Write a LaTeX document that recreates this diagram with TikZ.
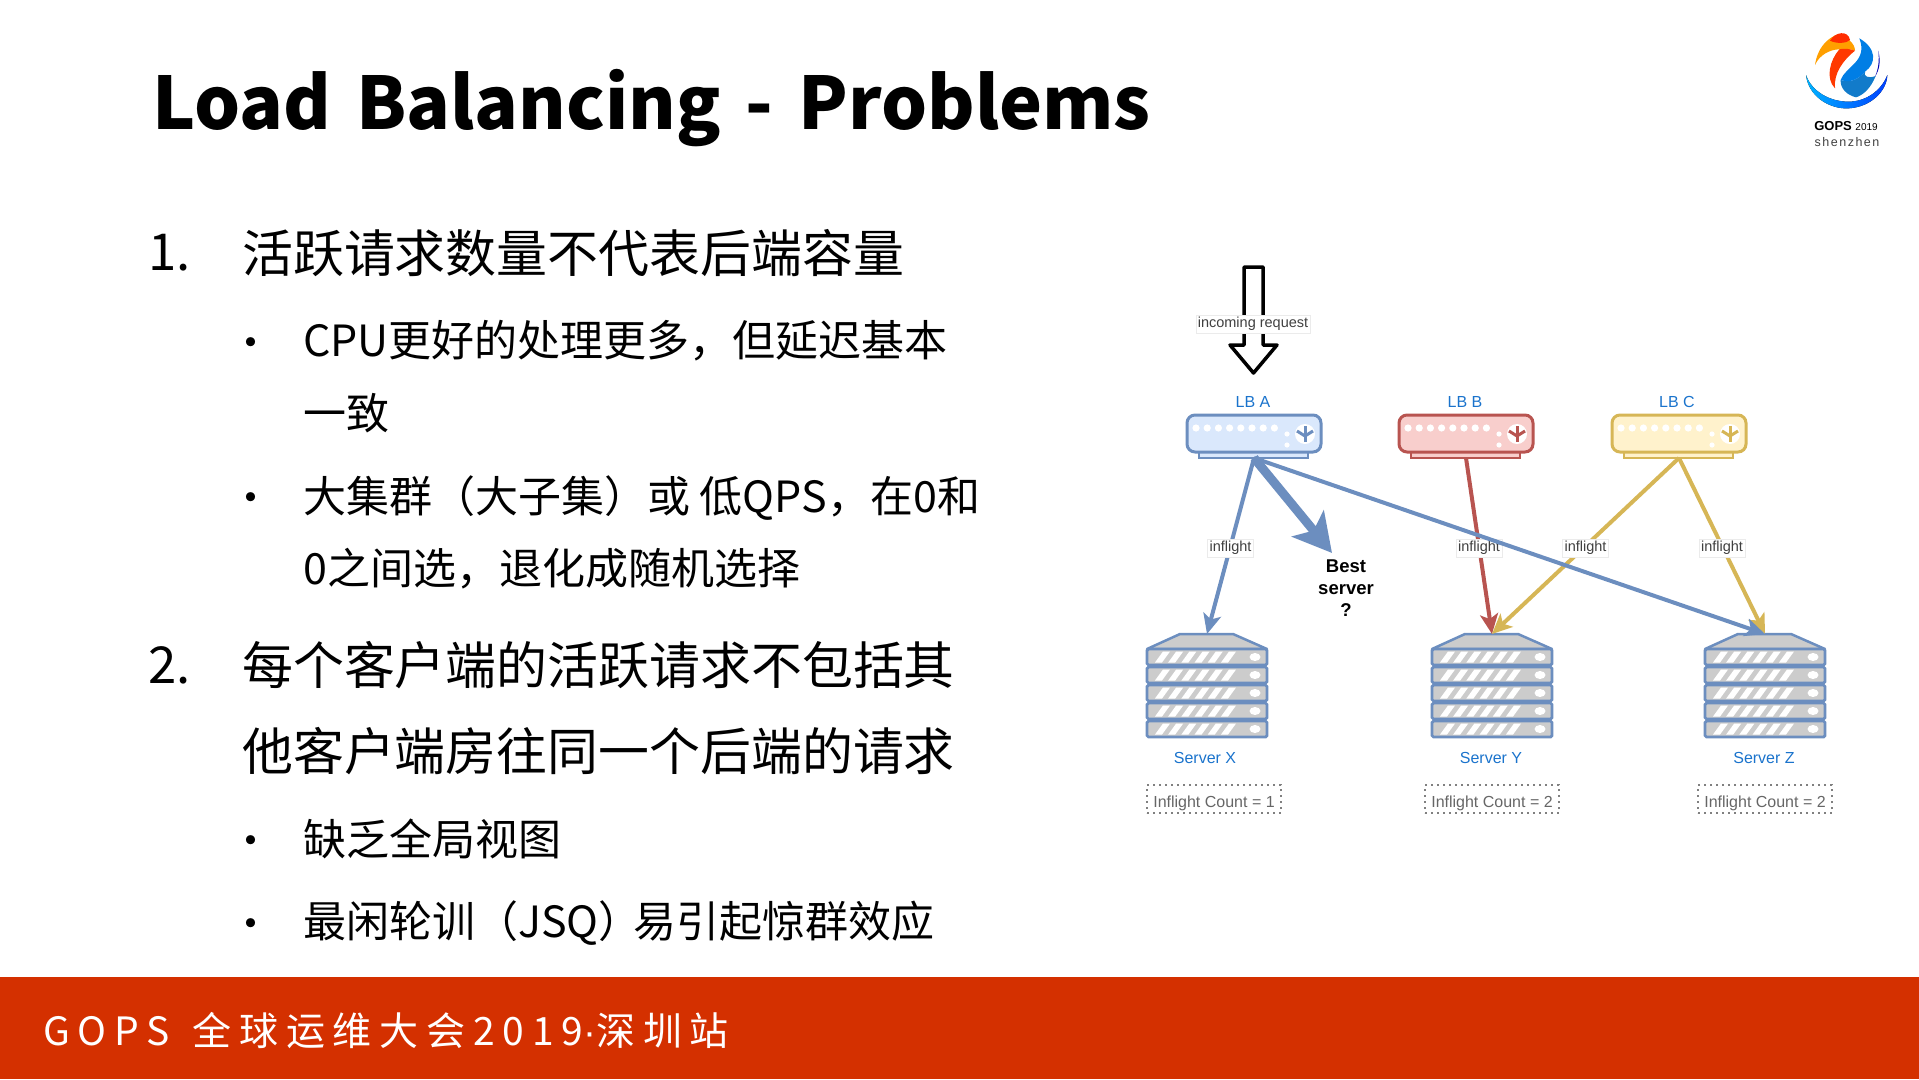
\documentclass[tikz,border=0pt]{standalone}
\usepackage{fontspec}
\setmainfont{Noto Sans CJK SC}
\newfontfamily\diagfont{Liberation Sans}
\usetikzlibrary{arrows.meta}
\definecolor{footred}{HTML}{D43000}
\definecolor{lbluefill}{HTML}{DAE8FC}
\definecolor{lblue}{HTML}{6C8EBF}
\definecolor{lredfill}{HTML}{F8CECC}
\definecolor{lred}{HTML}{B85450}
\definecolor{lgoldfill}{HTML}{FFF2CC}
\definecolor{lgold}{HTML}{D6B656}
\definecolor{labelblue}{HTML}{1A73CC}
\tikzset{
	headline/.style={anchor=west,inner sep=0pt,font=\fontsize{43}{50}\selectfont},
	mainline/.style={anchor=west,inner sep=0pt,font=\fontsize{50.9}{58}\selectfont},
	dotmark/.style={inner sep=0pt,font=\fontsize{43}{50}\selectfont},
	blue label/.style={text=labelblue,inner sep=0pt,font=\diagfont\fontsize{16}{20}\selectfont},
	flowlabel/.style={fill=white,draw=black!8,line width=0.5pt,inner sep=2pt,text=black!75,font=\diagfont\fontsize{14.5}{18}\selectfont},
	countbox/.style={draw=black!50,dash pattern=on 2pt off 4pt,line width=1.3pt,minimum width=134pt,minimum height=28pt,inner sep=0pt,text=black!60,font=\diagfont\fontsize{16}{20}\selectfont},
	flow/.style={line width=4pt,-{Stealth[length=20pt,width=18pt,inset=5pt]}}
}
% load balancer box: fill, stroke, left x, name
\def\lbunit[#1,#2](#3)#4{
	\draw[#2,line width=2.5pt,fill=#1] (#3+12,452) rectangle (#3+121,458);
	\draw[#2,line width=3pt,fill=#1,rounded corners=8pt] (#3,415) rectangle (#3+134,452);
	\foreach \k in {0,...,7}
		\fill[white] (#3+9+11.2*\k,428) circle (3.6);
	\fill[white] (#3+100,434) circle (2.6);
	\fill[white] (#3+100,445) circle (2.6);
	\fill[white] (#3+118,434) circle (10);
	\draw[#2,line width=3pt] (#3+118,426) -- (#3+118,442);
	\draw[#2,line width=3pt] (#3+110,431) -- (#3+118,436) -- (#3+126,431);
	\coordinate (#4) at (#3+67,458);
}
% server stack: centre x, name
\def\serverunit(#1)#2{
	\draw[lblue,line width=2.5pt,fill=black!20,line join=round] (#1-60,649) -- (#1-27,634) -- (#1+26,634) -- (#1+60,649) -- cycle;
	\foreach \y in {649,667,685,703,721} {
		\draw[lblue,line width=2.8pt,fill=black!20,rounded corners=1.5pt] (#1-60,\y) rectangle (#1+60,\y+16);
		\foreach \k in {0,...,5}
			\fill[white] (#1-52+13.2*\k,\y+13.5) -- (#1-45+13.2*\k,\y+13.5) -- (#1-37+13.2*\k,\y+2.5) -- (#1-44+13.2*\k,\y+2.5) -- cycle;
		\fill[white] (#1+48,\y+8) ellipse (5.5 and 4);
	}
	\coordinate (#2) at (#1,634);
}

\begin{document}
\begin{tikzpicture}[x=1pt,y=-1pt]
	\useasboundingbox (0,0) rectangle (1919,1079);
	%%%%% TITLE %%%%%
	\node[anchor=west,inner sep=0pt,font=\fontsize{72.5}{84}\selectfont\bfseries] (title) at (152,108) {\spaceskip=25pt\relax Load Balancing - Problems};

	%%%%% TEXT %%%%%
	\node[mainline] (numa) at (148,253) {1.};
	\node[mainline] (linea) at (242,253) {活跃请求数量不代表后端容量};
	\node[dotmark] (dota) at (251,348) {•};
	\node[headline] (lineb) at (303,341) {CPU更好的处理更多，但延迟基本};
	\node[headline] (linec) at (303,413) {一致};
	\node[dotmark] (dotb) at (251,503) {•};
	\node[headline] (lined) at (303,498) {大集群（大子集）或 低QPS，在0和};
	\node[headline] (linee) at (303,569) {0之间选，退化成随机选择};
	\node[mainline] (numb) at (148,665) {2.};
	\node[mainline] (linef) at (242,665) {每个客户端的活跃请求不包括其};
	\node[mainline] (lineg) at (242,751) {他客户端房往同一个后端的请求};
	\node[dotmark] (dotc) at (251,846) {•};
	\node[headline] (lineh) at (303,839) {缺乏全局视图};
	\node[dotmark] (dotd) at (251,929) {•};
	\node[headline] (linei) at (303,923) {最闲轮训（JSQ）\kern-8pt 易引起惊群效应};

	%%%%% FOOTER %%%%%
	\fill[footred] (0,977) rectangle (1919,1079);
	\node[anchor=west,inner sep=0pt,text=white,font=\fontsize{39}{44}\selectfont\addfontfeature{LetterSpace=20}] (foot) at (43,1031) {GOPS\kern6pt{} 全球运维大会2019{\diagfont\addfontfeature{LetterSpace=0}·}深圳站};

	%%%%% LOGO %%%%%
	\begin{scope}[shift={(1780,20)},scale=1/3]
		\fill[left color=cyan!70!blue,right color=blue!75!cyan] (78,165) .. controls (85,230) and (150,268) .. (205,265) .. controls (270,262) and (320,215) .. (322,165) .. controls (305,210) and (260,245) .. (205,245) .. controls (150,245) and (95,215) .. (78,165);
		\fill[orange!75!yellow] (105,135) .. controls (112,85) and (140,55) .. (175,42) .. controls (200,50) and (225,70) .. (225,92) .. controls (205,85) and (190,85) .. (178,88) .. controls (150,88) and (118,105) .. (105,135);
		\fill[red!65!orange] (150,62) .. controls (165,35) and (205,30) .. (210,60) .. controls (200,70) and (170,72) .. (150,62);
		\fill[red!55!orange] (178,88) .. controls (190,85) and (205,85) .. (225,92) .. controls (190,120) and (160,160) .. (165,205) .. controls (135,175) and (150,120) .. (178,88);
		\fill[cyan!60!blue] (182,180) .. controls (215,192) and (240,172) .. (255,155) .. controls (250,170) and (265,176) .. (287,168) .. controls (272,205) and (250,225) .. (228,232) .. controls (200,225) and (180,205) .. (182,180);
		\fill[blue!45!cyan!90!black] (182,180) .. controls (195,140) and (265,125) .. (238,55) .. controls (290,85) and (290,130) .. (255,155) .. controls (240,172) and (215,192) .. (182,180);
		\fill[blue!70!black] (295,92) .. controls (303,125) and (298,150) .. (285,170) .. controls (296,145) and (298,120) .. (295,92);
	\end{scope}
	\node[inner sep=0pt,font=\diagfont\fontsize{13}{15}\selectfont] (logoa) at (1846,126) {\textbf{GOPS} \fontsize{10}{12}\selectfont 2019};
	\node[inner sep=0pt,text=black!75,font=\diagfont\fontsize{12.5}{15}\selectfont\addfontfeature{LetterSpace=12}] (logob) at (1847,142) {shenzhen};

	%%%%% DIAGRAM %%%%%
	\lbunit[lbluefill,lblue](1187){lba}
	\lbunit[lredfill,lred](1399){lbb}
	\lbunit[lgoldfill,lgold](1612){lbc}
	\node[blue label] (lbanode) at (1253,402) {LB A};
	\node[blue label] (lbbnode) at (1465,402) {LB B};
	\node[blue label] (lbcnode) at (1677,402) {LB C};

	\serverunit(1207){srvx}
	\serverunit(1492){srvy}
	\serverunit(1765){srvz}
	\node[blue label] (xnode) at (1205,758) {Server X};
	\node[blue label] (ynode) at (1491,758) {Server Y};
	\node[blue label] (znode) at (1764,758) {Server Z};
	\node[countbox] (xcount) at (1214,799) {\raisebox{-8.4pt}[0pt][0pt]{Inflight Count = 1}};
	\node[countbox] (ycount) at (1492,799) {\raisebox{-8.4pt}[0pt][0pt]{Inflight Count = 2}};
	\node[countbox] (zcount) at (1765,799) {\raisebox{-8.4pt}[0pt][0pt]{Inflight Count = 2}};

	\draw[black,line width=3.5pt,line join=round] (1244,345) -- (1244,267) -- (1263,267) -- (1263,345) -- (1277,345) -- (1253.5,373) -- (1230,345) -- cycle;
	\node[flowlabel] (incoming) at (1253,324) {incoming request};

	\draw[flow,lred] (lbb) -- node[flowlabel,pos=0.5,yshift=-2pt] (infb) {inflight} (srvy);
	\draw[flow,lgold] (lbc) -- node[flowlabel,pos=0.5,yshift=-2pt] (infc) {inflight} (srvy);
	\draw[flow,lgold] (lbc) -- node[flowlabel,pos=0.5,yshift=-2pt] (infd) {inflight} (srvz);
	\draw[flow,lblue] (lba) -- node[flowlabel,pos=0.5,yshift=-2pt] (infa) {inflight} (srvx);
	\draw[flow,lblue] (lba) -- (srvz);
	\coordinate (bestend) at (1332,553);
	\draw[lblue,line width=9pt,-{Stealth[length=38pt,width=41pt,inset=9pt]}] (lba) -- (bestend);
	\node[align=center,inner sep=0pt,font=\diagfont\bfseries\fontsize{18.5}{22}\selectfont] (best) at (1346,588) {Best\\server\\?};
\end{tikzpicture}
\end{document}
